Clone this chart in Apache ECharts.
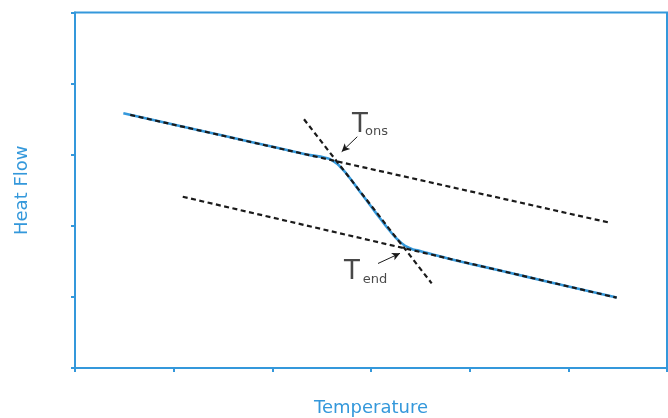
<!DOCTYPE html>
<html>
<head>
<meta charset="utf-8">
<style>
  html, body { margin: 0; padding: 0; background: #ffffff; }
  #chart { width: 668px; height: 418px; }
</style>
<script src="https://cdn.jsdelivr.net/npm/echarts/dist/echarts.min.js"></script>
</head>
<body>
<div id="chart"></div>
<script>
// DSC step transition: measured heat flow curve with onset / end tangents
const heatFlowCurve = [
  [0.490, 3.582], [1.267, 3.340], [1.774, 3.183], [2.280, 3.025],
  [2.382, 2.994], [2.534, 2.958], [2.618, 2.911], [2.703, 2.809],
  [2.787, 2.668], [2.888, 2.480], [2.990, 2.293], [3.091, 2.106],
  [3.192, 1.927], [3.294, 1.776], [3.395, 1.684], [3.497, 1.646],
  [3.591, 1.610], [3.801, 1.534], [4.307, 1.371], [4.814, 1.207],
  [5.490, 0.992]
];

// extrapolated baselines and inflection tangent
const upperBaseline = [[0.560, 3.560], [5.402, 2.049]];
const lowerBaseline = [[1.092, 2.409], [5.490, 0.989]];
const inflectionTangent = [[2.321, 3.498], [3.615, 1.191]];

// annotation text and arrows
const onsetLabel = [
  { value: [2.888, 3.418], text: 'T', kind: 'main' },
  { value: [3.056, 3.319], text: 'ons', kind: 'sub' }
];
const endLabel = [
  { value: [2.807, 1.343], text: 'T', kind: 'main' },
  { value: [3.040, 1.238], text: 'end', kind: 'sub' }
];
const onsetArrow = [[2.861, 3.253], [2.703, 3.042]];
const endArrow = [[3.071, 1.470], [3.294, 1.613]];

const xTitle = 'Temperature';
const yTitle = 'Heat Flow';

const BLUE = '#3498db';
const INK = '#1a1a1a';
const FONT = "'DejaVu Sans', 'Lato', sans-serif";

function dashed(data, z) {
  return {
    type: 'line', data, showSymbol: false, symbol: 'none', silent: true,
    lineStyle: { color: INK, width: 2.2, type: [5, 3.5] }, z
  };
}

function labelSeries(items) {
  return {
    type: 'scatter', symbolSize: 0, silent: true, z: 6,
    data: items.map(d => ({
      value: d.value,
      label: {
        show: true, position: 'inside', formatter: d.text,
        color: INK, fontFamily: FONT, fontWeight: 'normal',
        fontSize: d.kind === 'main' ? 26 : 13
      }
    }))
  };
}

function arrowLine(pair) {
  return {
    silent: true, symbol: ['none', 'arrow'], symbolSize: [6, 8],
    label: { show: false },
    lineStyle: { color: INK, width: 1, type: 'solid' },
    data: [[{ coord: pair[0] }, { coord: pair[1] }]]
  };
}

const chart = echarts.init(document.getElementById('chart'), null, { renderer: 'canvas' });

chart.setOption({
  animation: false,
  backgroundColor: '#ffffff',
  grid: {
    left: 75, right: 1, top: 12.5, bottom: 50,
    outerBoundsMode: 'none', containLabel: false,
    show: true, borderColor: BLUE, borderWidth: 2, backgroundColor: 'transparent'
  },
  xAxis: {
    type: 'value', min: 0, max: 6, interval: 1,
    name: xTitle, nameLocation: 'middle', nameGap: 31,
    nameTextStyle: { color: BLUE, fontSize: 18, fontFamily: FONT },
    axisLine: { show: true, lineStyle: { color: BLUE, width: 2 } },
    axisTick: { show: true, length: 4, lineStyle: { color: BLUE, width: 2 } },
    axisLabel: { show: false },
    splitLine: { show: false }
  },
  yAxis: {
    type: 'value', min: 0, max: 5, interval: 1,
    name: yTitle, nameLocation: 'middle', nameGap: 44, nameRotate: 90,
    nameTextStyle: { color: BLUE, fontSize: 18, fontFamily: FONT },
    axisLine: { show: true, lineStyle: { color: BLUE, width: 2 } },
    axisTick: { show: true, length: 4, lineStyle: { color: BLUE, width: 2 } },
    axisLabel: { show: false },
    splitLine: { show: false }
  },
  series: [
    {
      type: 'line', data: heatFlowCurve, smooth: 0.6, showSymbol: false, symbol: 'none',
      silent: true, lineStyle: { color: BLUE, width: 2.6 }, z: 2
    },
    dashed(upperBaseline, 3),
    dashed(lowerBaseline, 3),
    Object.assign(dashed(inflectionTangent, 3), { markLine: arrowLine(onsetArrow) }),
    Object.assign(labelSeries(onsetLabel), { markLine: arrowLine(endArrow) }),
    labelSeries(endLabel)
  ]
});
</script>
</body>
</html>
